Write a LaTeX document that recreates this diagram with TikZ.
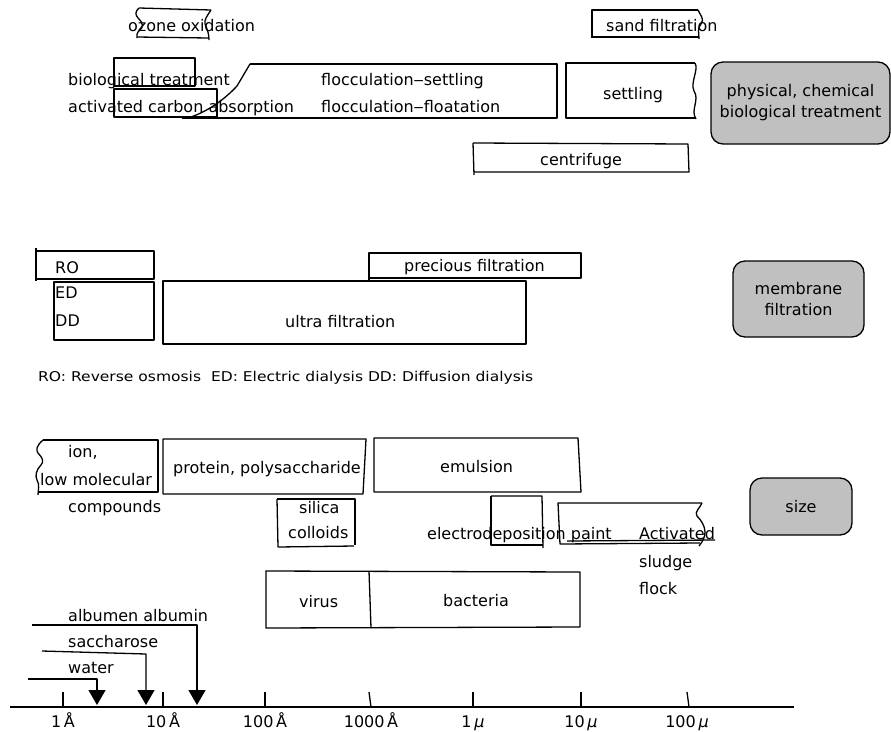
\documentclass[tikz,border=0pt]{standalone}
\usepackage{fontspec}
\setmainfont{DejaVu Sans}
\newfontfamily\capfont{DejaVu Sans}[FakeStretch=1.15]
\usetikzlibrary{arrows.meta}
\definecolor{graybox}{HTML}{C0C0C0}
\begin{document}
\begin{tikzpicture}[x=1pt,y=-1pt, line join=round,
  bx/.style={draw=black, line width=1.3pt},
  lbl/.style={anchor=base west, inner sep=0pt, font=\fontsize{16}{19}\selectfont},
  clbl/.style={anchor=base, inner sep=0pt, font=\fontsize{16}{19}\selectfont},
  cat/.style={draw, fill=graybox, line width=1.3pt, rounded corners=12pt, align=center, inner sep=0pt, font=\fontsize{16}{21}\selectfont},
  ptr/.style={line width=1.3pt, -{Triangle[width=17pt,length=15pt]}},
  axis/.style={line width=1.3pt},
]
\useasboundingbox (0,0) rectangle (891,731);

% ---------------- physical / chemical / biological treatment ----------------
% ozone oxidation
\draw[bx] (139,8) -- (211,10);
\draw[bx] (139,8) .. controls (134,13) and (136,15) .. (138,18)
          .. controls (144,24) and (143,27) .. (140,30)
          .. controls (136,33) and (137,36) .. (137,38);
\draw[bx] (137,37) -- (208,38);
\draw[bx] (211,10) .. controls (207,16) and (204,20) .. (205,24)
          .. controls (207,29) and (209,33) .. (209,40);
\node[lbl] (ozone) at (128,31) {ozone oxidation};

% sand filtration
\draw[bx] (698,10) -- (592,10) -- (592,38);
\draw[bx] (592,37) -- (699,37);
\draw[bx] (698,10) .. controls (700,15) and (705,19) .. (701,24)
          .. controls (697,28) and (699,33) .. (699,39);
\node[lbl] (sand) at (606,31) {sand filtration};

% biological treatment / activated carbon
\draw[bx] (114,58) rectangle (195,86);
\draw[bx] (114,89) rectangle (217,117);
\node[lbl] (bio) at (68,85) {biological treatment};
\node[lbl] (carbon) at (68,112) {activated carbon absorption};

% flocculation
\draw[bx] (250,64) -- (557,64) -- (557,118) -- (182,118);
\draw[bx] (250,64) -- (237,86) .. controls (224,100) and (207,112) .. (188,118);
\node[lbl] (flocs) at (321,85) {flocculation‒settling};
\node[lbl] (flocf) at (321,112) {flocculation‒floatation};

% settling
\draw[bx] (695,63) -- (566,63) -- (566,118) -- (696,118);
\draw[bx] (695,63) .. controls (699,70) and (690,82) .. (694,91)
          .. controls (700,100) and (690,110) .. (696,119);
\node[lbl] (settling) at (603,99) {settling};

% centrifuge
\draw[bx] (473,143) -- (688,144) -- (689,172) -- (474,172);
\draw[bx] (473,143) -- (474,175);
\node[lbl] (centrifuge) at (540,165) {centrifuge};

% category
\node[cat, minimum width=179pt, minimum height=82pt] (phys) at (800.5,103)
  {physical, chemical\\biological treatment};

% ---------------- membrane filtration ----------------
\draw[bx] (36,248) -- (36,281);
\draw[bx] (36,251) -- (154,251) -- (154,279) -- (36,279);
\node[lbl] (RO) at (55,273) {RO};

\draw[bx] (54,282) rectangle (154,340);
\node[lbl] (ED) at (55,298) {ED};
\node[lbl] (DD) at (55,326) {DD};

\draw[bx] (163,281) -- (526,281) -- (526,344) -- (163,344) -- cycle;
\node[lbl] (ultra) at (285,327) {ultra filtration};

\draw[bx] (369,253) rectangle (581,278);
\draw[bx] (369,278) -- (369,281);
\node[lbl] (precious) at (404,271) {precious filtration};

\node[cat, minimum width=131pt, minimum height=76pt] (memb) at (798.5,299)
  {membrane\\filtration};

\node[anchor=base west, inner sep=0pt, font=\capfont\fontsize{13.5}{16}\selectfont] (caption) at (38,381)
  {RO: Reverse osmosis\ \ ED: Electric dialysis DD: Diffusion dialysis};

% ---------------- size ----------------
% ion
\draw[bx] (43,440) -- (158,440) -- (158,492) -- (38,492);
\draw[bx] (43,440) .. controls (36,446) and (36,450) .. (38,453)
          .. controls (43,458) and (44,462) .. (41,465)
          .. controls (36,470) and (35,476) .. (37,480)
          .. controls (40,485) and (38,490) .. (38,495);
\node[lbl] (ion) at (68,457) {ion,};
\node[lbl] (lowmol) at (40,485) {low molecular};
\node[lbl] (compounds) at (68,512) {compounds};

% protein
\draw[bx] (163,439) -- (366,439) -- (363,494) -- (163,494) -- cycle;
\node[lbl] (protein) at (173,473) {protein, polysaccharide};

% emulsion
\draw[bx] (374,438) -- (578,438) -- (581,492) -- (374,492) -- cycle;
\node[lbl] (emulsion) at (440,472) {emulsion};

% silica colloids
\draw[bx] (277,499) -- (355,499) -- (355,545);
\draw[bx] (277,499) -- (278,547) -- (354,546);
\node[lbl] (silica) at (299,513) {silica};
\node[lbl] (colloids) at (288,538) {colloids};

% electrodeposition paint
\draw[bx] (491,496) -- (542,496) -- (543,548);
\draw[bx] (491,496) -- (491,545) -- (543,545);
\node[lbl] (electro) at (427,539) {electrodeposition paint};

% activated sludge flock
\draw[bx] (702,503) -- (558,503) -- (560,544) -- (700,543);
\draw[bx] (567,541) -- (715,540);
\draw[bx] (702,503) .. controls (700,508) and (694,512) .. (697,516)
          .. controls (701,520) and (705,526) .. (705,532)
          .. controls (705,537) and (703,541) .. (699,546);
\node[lbl] (activated) at (639,539) {Activated};
\node[lbl] (sludge) at (639,567) {sludge};
\node[lbl] (flock) at (639,594) {flock};

\node[cat, minimum width=102pt, minimum height=57pt] (size) at (801,506.5) {size};

% virus / bacteria
\draw[bx] (266,571) -- (580,572) -- (580,627) -- (266,628) -- cycle;
\draw[bx] (369,571) -- (371,628);
\node[lbl] (virus) at (299,607) {virus};
\node[lbl] (bacteria) at (443,606) {bacteria};

% ---------------- pointers ----------------
\coordinate (albtop) at (32,625);
\coordinate (albpt) at (197,705);
\coordinate (sactop) at (42,651);
\coordinate (sacpt) at (146,705);
\coordinate (wattop) at (28,679);
\coordinate (watpt) at (97,705);
\draw[ptr] (albtop) -- (albpt |- albtop) -- (albpt);
\draw[ptr] (sactop) -- (146,654) -- (sacpt);
\draw[ptr] (wattop) -- (watpt |- wattop) -- (watpt);
\node[lbl] (albumin) at (68,621) {albumen albumin};
\node[lbl] (saccharose) at (68,647) {saccharose};
\node[lbl] (water) at (68,673) {water};

% ---------------- axis ----------------
\coordinate (axL) at (10,707);
\coordinate (axR) at (794,707);
\draw[axis] (axL) -- (axR);
\foreach \x/\t in {63/1\,Å, 163/10\,Å, 265/100\,Å, 473/1\,\textit{μ}, 581/10\,\textit{μ}}{
  \draw[axis] (\x,692) -- (\x,707);
  \node[clbl] at (\x,727) {\t};
}
\draw[axis] (369,692) -- (371,707);
\node[clbl] (t1000) at (371,727) {1000\,Å};
\draw[axis] (687,692) -- (689,707);
\node[clbl] (t100mu) at (687,727) {100\,\textit{μ}};

\end{tikzpicture}
\end{document}
